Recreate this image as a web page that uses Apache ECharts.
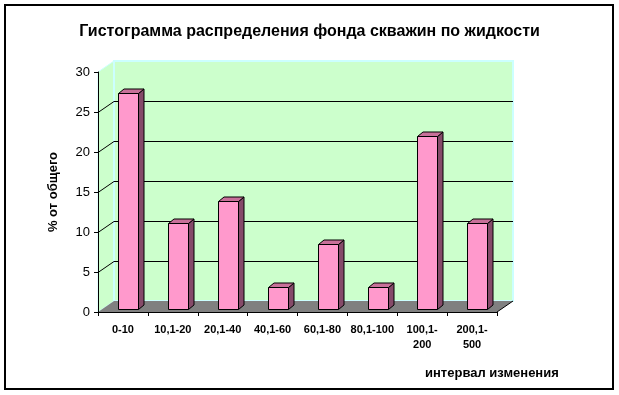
<!DOCTYPE html>
<html>
<head>
<meta charset="utf-8">
<script src="https://cdn.jsdelivr.net/npm/echarts@6/dist/echarts.min.js"></script>
<style>html,body{margin:0;padding:0;background:#fff}#c{width:619px;height:395px}</style>
</head>
<body>
<div id="c"></div>
<script>
const categories = ['0-10', '10,1-20', '20,1-40', '40,1-60', '60,1-80', '80,1-100', '100,1-\n200', '200,1-\n500'];
const shares = [27.0, 10.8, 13.5, 2.7, 8.1, 2.7, 21.6, 10.8];
const yTicks = [0, 5, 10, 15, 20, 25, 30];
const titleText = 'Гистограмма распределения фонда скважин по жидкости';
const yName = '% от общего';
const xName = 'интервал изменения';

const FONT = 'Arial, "Liberation Sans", sans-serif';
const DX = 16, DY = -11;         // wall depth
const BOFF_X = 5.5, BOFF_Y = -3; // bar front offset
const BDX = 5.5, BDY = -4.5;     // bar depth
const yMin = yTicks[0], yMax = yTicks[yTicks.length - 1];

const chart = echarts.init(document.getElementById('c'), null, {renderer: 'canvas'});

function renderBack(params, api) {
  const bw = api.size([1, 0])[0];
  const l = api.coord([0, yMin])[0] - bw / 2;
  const r = api.coord([categories.length - 1, yMin])[0] + bw / 2;
  const yb = api.coord([0, yMin])[1];
  const yt = api.coord([0, yMax])[1];
  const children = [];
  children.push({type: 'polygon', shape: {points: [[l, yt], [l + DX, yt + DY], [l + DX, yb + DY], [l, yb]]},
    style: {fill: '#CCFFCC', stroke: '#CCFFFF', lineWidth: 1}});
  children.push({type: 'polygon', shape: {points: [[l + DX, yt + DY], [r + DX, yt + DY], [r + DX, yb + DY], [l + DX, yb + DY]]},
    style: {fill: '#CCFFCC', stroke: '#CCFFFF', lineWidth: 2}});
  yTicks.forEach(function (v) {
    if (v === yMin || v === yMax) return;
    const y = Math.round(api.coord([0, v])[1]) + 0.5;
    children.push({type: 'polyline', shape: {points: [[l, y], [l + DX, y + DY], [r + DX, y + DY]]},
      style: {fill: null, stroke: '#000', lineWidth: 1}});
  });
  children.push({type: 'polygon', shape: {points: [[l, yb], [r, yb], [r + DX, yb + DY], [l + DX, yb + DY]]},
    style: {fill: '#808080', stroke: null}});
  children.push({type: 'line', shape: {x1: r, y1: yb, x2: r + DX, y2: yb + DY},
    style: {stroke: '#000', lineWidth: 1}});
  return {type: 'group', children: children};
}

function renderBar(params, api) {
  const i = api.value(0), v = api.value(1);
  const c0 = api.coord([i, 0]);
  const c1 = api.coord([i, v]);
  const w = api.size([1, 0])[0] * 0.41;
  const x0 = Math.round(c0[0] - w / 2 + BOFF_X) + 0.5;
  const x1 = x0 + Math.round(w);
  const yb = Math.round(c0[1] + BOFF_Y) + 0.5;
  const yt = Math.round(c1[1] + BOFF_Y) + 0.5;
  const st = {stroke: '#000', lineWidth: 1, lineJoin: 'miter'};
  return {type: 'group', children: [
    {type: 'polygon', shape: {points: [[x1, yt], [x1 + BDX, yt + BDY], [x1 + BDX, yb + BDY], [x1, yb]]},
      style: Object.assign({fill: '#854A69'}, st)},
    {type: 'polygon', shape: {points: [[x0, yt], [x0 + BDX, yt + BDY], [x1 + BDX, yt + BDY], [x1, yt]]},
      style: Object.assign({fill: '#C87099'}, st)},
    {type: 'polygon', shape: {points: [[x0, yt], [x1, yt], [x1, yb], [x0, yb]]},
      style: Object.assign({fill: '#FF99CC'}, st)}
  ]};
}

chart.setOption({
  animation: false,
  backgroundColor: '#fff',
  title: {
    text: titleText, left: 'center', top: 19,
    textStyle: {fontFamily: FONT, fontSize: 16, fontWeight: 'bold', color: '#000'}
  },
  grid: {left: 98, right: 122, top: 72, bottom: 83, containLabel: false},
  xAxis: {
    type: 'category', data: categories, boundaryGap: true,
    axisLine: {show: true, lineStyle: {color: '#000', width: 1}},
    axisTick: {show: true, interval: 0, length: 4, lineStyle: {color: '#000'}},
    axisLabel: {interval: 0, margin: 10, fontFamily: FONT, fontSize: 11, fontWeight: 'bold', color: '#000', lineHeight: 15},
    splitLine: {show: false}, z: 5
  },
  yAxis: {
    type: 'value', min: yMin, max: yMax, interval: 5,
    name: yName, nameLocation: 'middle', nameGap: 38, nameRotate: 90,
    nameTextStyle: {fontFamily: FONT, fontSize: 13, fontWeight: 'bold', color: '#000'},
    axisLine: {show: true, lineStyle: {color: '#000', width: 1}},
    axisTick: {show: true, length: 4, lineStyle: {color: '#000'}},
    axisLabel: {margin: 8, fontFamily: FONT, fontSize: 13, color: '#000'},
    splitLine: {show: false}, z: 5
  },
  graphic: [
    {type: 'rect', shape: {x: 5, y: 5, width: 608, height: 384}, style: {fill: null, stroke: '#000', lineWidth: 2}, z: 100},
    {type: 'text', left: 425, top: 367, style: {text: xName, font: 'bold 13px ' + FONT, fill: '#000'}}
  ],
  series: [
    {type: 'custom', renderItem: renderBack, data: [[0, 0]], clip: false, z: 1, silent: true},
    {type: 'custom', renderItem: renderBar, data: shares.map(function (v, i) { return [i, v]; }), clip: false, z: 3}
  ]
});
</script>
</body>
</html>
